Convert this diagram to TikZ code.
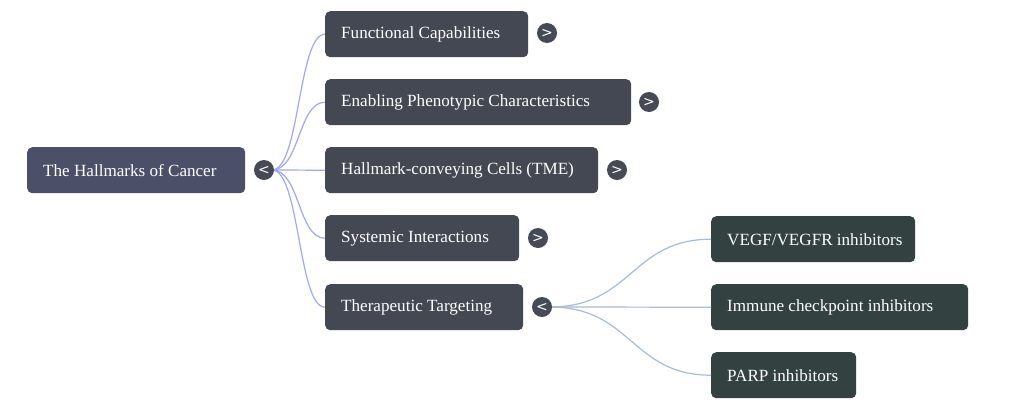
\documentclass[tikz,border=0pt]{standalone}
\usepackage{fontspec}
\usetikzlibrary{calc}
\setmainfont{Liberation Serif}
\newfontfamily\togfont{DejaVu Sans}
\definecolor{rootc}{HTML}{4C4F68}
\definecolor{lonec}{HTML}{434852}
\definecolor{ltwoc}{HTML}{334240}
\definecolor{togc}{HTML}{454A55}
\definecolor{linea}{HTML}{A0A8F0}
\definecolor{lineb}{HTML}{A8BCD8}
\newcommand{\lbl}[2]{\makebox[#1pt][l]{#2}}
\tikzset{
  box/.style={rounded corners=5pt, anchor=north west, minimum height=46pt, inner xsep=16pt, inner ysep=0pt, text=white, font=\fontsize{17.1pt}{19pt}\selectfont},
  rootbox/.style={box, fill=rootc},
  onebox/.style={box, fill=lonec},
  twobox/.style={box, fill=ltwoc},
  tog/.style={circle, fill=togc, minimum size=20pt, inner sep=0pt, text=white, font=\togfont\fontsize{14pt}{14pt}\selectfont},
  conna/.style={draw=linea, line width=1.2pt},
  connb/.style={draw=lineb, line width=1.2pt},
}
\begin{document}
\begin{tikzpicture}[x=1pt,y=-1pt]
\useasboundingbox[fill=white] (0,0) rectangle (1024,410);
% nodes
\node[rootbox] (root) at (27,147) {\lbl{186}{The Hallmarks of Cancer}};
\node[onebox] (a) at (325,11) {\lbl{171}{Functional Capabilities}};
\node[onebox] (b) at (325,79) {\lbl{274}{Enabling Phenotypic Characteristics}};
\node[onebox] (c) at (325,147) {\lbl{241}{Hallmark-conveying Cells (TME)}};
\node[onebox] (d) at (325,215) {\lbl{162}{Systemic Interactions}};
\node[onebox] (e) at (325,284) {\lbl{166}{Therapeutic Targeting}};
\node[twobox] (f) at (711,216) {\lbl{172}{VEGF/VEGFR inhibitors}};
\node[twobox] (g) at (711,284) {\lbl{225}{Immune checkpoint inhibitors}};
\node[twobox] (h) at (711,352) {\lbl{113}{PARP inhibitors}};
% connectors
\coordinate (rs) at (272,170);
\foreach \n in {a,b,c,d,e}{
  \draw[conna] (rs) .. controls (300,170) and ($(\n.west)+(-27,0)$) .. (\n.west);
}
\coordinate (es) at (550,307);
\foreach \n in {f,g,h}{
  \draw[connb] (es) .. controls (632,307) and ($(\n.west)+(-80,0)$) .. (\n.west);
}
% toggles
\node[tog] (t0) at (264,170) {<};
\node[tog] (t1) at (547,33) {>};
\node[tog] (t2) at (649,102) {>};
\node[tog] (t3) at (617,170) {>};
\node[tog] (t4) at (538,238) {>};
\node[tog] (t5) at (542,307) {<};
\end{tikzpicture}
\end{document}
